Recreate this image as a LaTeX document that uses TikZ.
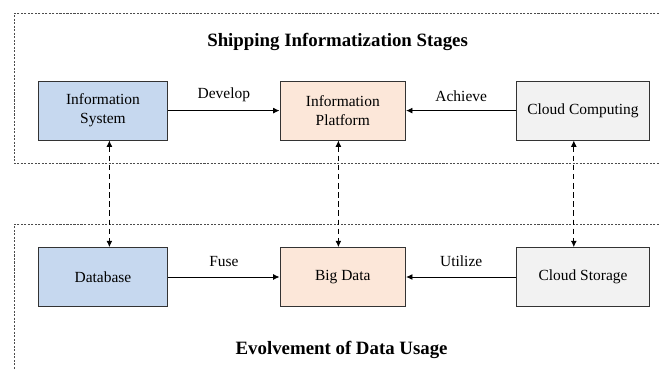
\documentclass[tikz,border=0pt]{standalone}
\usepackage{fontspec}
\setmainfont{Liberation Serif}
\usetikzlibrary{arrows.meta}
\definecolor{sysblue}{RGB}{198,216,239}
\definecolor{platorange}{RGB}{252,231,217}
\definecolor{cloudgray}{RGB}{242,242,242}
\begin{document}
\begin{tikzpicture}[>={Latex[length=4.5pt,width=4.2pt]}, font=\fontsize{11}{13.5}\selectfont,
  box/.style={draw=black!80, line width=.7pt, rectangle, minimum width=3.24cm, minimum height=1.47cm, align=center},
  frame/.style={draw=black!70, line width=.5pt, dash pattern=on 1.5pt off 1pt},
  link/.style={<->, dash pattern=on 4pt off 2.5pt, line width=.6pt},
  flow/.style={->, line width=.6pt},
  heading/.style={font=\fontsize{13.4}{16}\selectfont\bfseries}]

 \useasboundingbox (0,0) rectangle (16.475,9.225);
 \draw[frame] (16.475,8.9)--(.36,8.9)--(.36,5.14)--(16.475,5.14);
 \draw[frame] (16.475,3.62)--(.36,3.62)--(.36,0);
 \node[heading] (stages) at (8.44,8.175){Shipping Informatization Stages};
 \node[heading] (usage) at (8.54,.475){Evolvement of Data Usage};

 \node[box, fill=sysblue] (is) at (2.575,6.46){Information\\System};
 \node[box, fill=platorange, minimum width=3.14cm] (ip) at (8.57,6.46){Information\\Platform};
 \node[box, fill=cloudgray, minimum width=3.31cm] (cc) at (14.575,6.46){Cloud Computing};
 \node[box, fill=sysblue] (db) at (2.575,2.3){Database};
 \node[box, fill=platorange, minimum width=3.14cm] (bd) at (8.57,2.3){Big Data};
 \node[box, fill=cloudgray, minimum width=3.31cm] (cs) at (14.575,2.3){Cloud Storage};

 \draw[flow](is)--node[above=2.5pt]{Develop}(ip);
 \draw[flow](cc)--node[above=2.5pt]{Achieve}(ip);
 \draw[flow](db)--node[above=3.5pt]{Fuse}(bd);
 \draw[flow](cs)--node[above=3.5pt]{Utilize}(bd);

 \draw[link]([xshift=.16cm]is.south)--([xshift=.16cm]db.north);
 \draw[link]([xshift=-.11cm]ip.south)--([xshift=-.11cm]bd.north);
 \draw[link]([xshift=-.23cm]cc.south)--([xshift=-.23cm]cs.north);

\end{tikzpicture}
\end{document}
